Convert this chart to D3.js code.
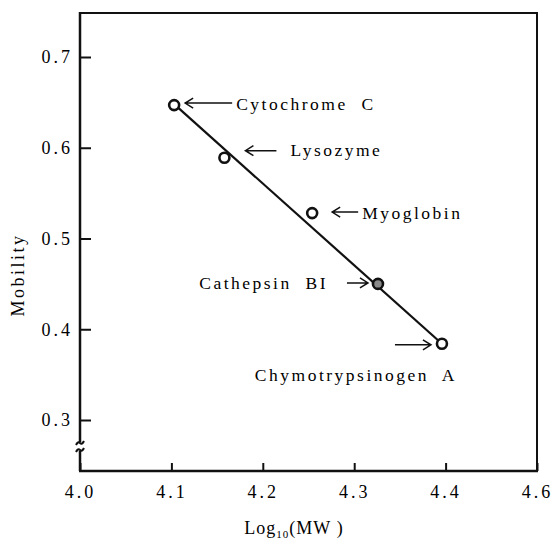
<!DOCTYPE html>
<html>
<head>
<meta charset="utf-8">
<script src="https://cdn.jsdelivr.net/npm/d3@7"></script>
<style>
  body { margin: 0; background: #fff; }
  text { font-family: "Liberation Serif", "DejaVu Serif", serif; fill: #000; }
</style>
</head>
<body>
<div class="chart"></div>
<script>
// proteins, log10(MW) vs mobility
var proteins = ['Cytochrome C', 'Lysozyme', 'Myoglobin', 'Cathepsin BI', 'Chymotrypsinogen A'];
var logMW = [4.103, 4.158, 4.254, 4.326, 4.396];
var mobility = [0.647, 0.589, 0.528, 0.450, 0.384];
var unknown = [false, false, false, true, false];

// fitted line end points
var fitX = [4.103, 4.396];
var fitY = [0.648, 0.384];

var xTicks = [4.0, 4.1, 4.2, 4.3, 4.4, 4.5];
var xTickLabels = ['4.0', '4.1', '4.2', '4.3', '4.4', '4.6'];
var yTicks = [0.3, 0.4, 0.5, 0.6, 0.7];
var yTickLabels = ['0.3', '0.4', '0.5', '0.6', '0.7'];

function init() {
  var width = 555,
      height = 539,
      left = 80,
      right = 537,
      top = 13,
      bottom = 471;

  var x = d3.scaleLinear().domain([4.0, 4.5]).range([left, right]);
  var y = d3.scaleLinear().domain([0.3, 0.7]).range([420, 57]);

  var svg = d3.select('.chart')
    .append('svg')
      .attr('width', width)
      .attr('height', height);

  // frame (top and right)
  svg.append('path')
      .attr('d', 'M' + left + ',' + top + 'H' + right + 'V' + bottom)
      .attr('fill', 'none')
      .attr('stroke', '#111')
      .attr('stroke-width', 2);

  // bottom axis
  var xAxis = d3.axisBottom(x)
      .tickValues(xTicks)
      .tickSize(-8)
      .tickFormat(function(d, i) { return xTickLabels[i]; });

  var gx = svg.append('g')
      .attr('transform', 'translate(0,' + bottom + ')')
      .call(xAxis);
  gx.select('.domain').remove();
  gx.selectAll('line').attr('stroke', '#111').attr('stroke-width', 2);
  gx.selectAll('text')
      .attr('y', 14)
      .attr('dy', '0.71em')
      .style('font-size', '18px')
      .style('letter-spacing', '3px')
      .style('font-family', '"Liberation Serif", serif')
      .attr('fill', '#000');
  svg.append('line')
      .attr('x1', left - 1).attr('x2', right + 1)
      .attr('y1', bottom).attr('y2', bottom)
      .attr('stroke', '#111')
      .attr('stroke-width', 2.5);

  // left axis
  var yAxis = d3.axisLeft(y)
      .tickValues(yTicks)
      .tickSize(-11)
      .tickFormat(function(d, i) { return yTickLabels[i]; });

  var gy = svg.append('g')
      .attr('transform', 'translate(' + left + ',0)')
      .call(yAxis);
  gy.select('.domain').remove();
  gy.selectAll('line').attr('stroke', '#111').attr('stroke-width', 2);
  gy.selectAll('text')
      .attr('x', -7)
      .style('font-size', '18px')
      .style('letter-spacing', '3px')
      .style('font-family', '"Liberation Serif", serif')
      .attr('fill', '#000');

  // axis line with break
  svg.append('line')
      .attr('x1', left).attr('x2', left)
      .attr('y1', top - 1).attr('y2', 442)
      .attr('stroke', '#111').attr('stroke-width', 2.5);
  svg.append('line')
      .attr('x1', left).attr('x2', left)
      .attr('y1', 451).attr('y2', bottom)
      .attr('stroke', '#111').attr('stroke-width', 2.5);
  svg.append('path')
      .attr('d', 'M' + (left - 4) + ',445 Q' + (left - 2) + ',441 ' + left + ',443 T' + (left + 4) + ',441')
      .attr('fill', 'none').attr('stroke', '#111').attr('stroke-width', 2);
  svg.append('path')
      .attr('d', 'M' + (left - 4) + ',452 Q' + (left - 2) + ',448 ' + left + ',450 T' + (left + 4) + ',448')
      .attr('fill', 'none').attr('stroke', '#111').attr('stroke-width', 2);

  // axis titles
  svg.append('text')
      .attr('transform', 'translate(24,275) rotate(-90)')
      .attr('text-anchor', 'middle')
      .style('font-size', '18px')
      .style('letter-spacing', '2.5px')
      .text('Mobility');

  var xTitle = svg.append('text')
      .attr('x', 294)
      .attr('y', 534)
      .attr('text-anchor', 'middle')
      .style('font-size', '18px')
      .style('letter-spacing', '1px');
  xTitle.append('tspan').text('Log');
  xTitle.append('tspan').attr('dy', 4).style('font-size', '11px').text('10');
  xTitle.append('tspan').attr('dy', -4).text('(MW\u00a0)');

  // fitted line
  svg.append('line')
      .attr('x1', x(fitX[0])).attr('y1', y(fitY[0]))
      .attr('x2', x(fitX[1])).attr('y2', y(fitY[1]))
      .attr('stroke', '#111')
      .attr('stroke-width', 2.2);

  // points
  var pts = proteins.map(function(name, i) {
    return { name: name, x: logMW[i], y: mobility[i], unknown: unknown[i] };
  });

  svg.selectAll('circle.pt')
    .data(pts)
    .enter().append('circle')
      .attr('class', 'pt')
      .attr('cx', function(d) { return x(d.x); })
      .attr('cy', function(d) { return y(d.y); })
      .attr('r', 5)
      .attr('fill', function(d) { return d.unknown ? '#8a8a8a' : '#fff'; })
      .attr('stroke', '#111')
      .attr('stroke-width', 2.6);

  // annotations: arrow tip/tail offsets from point, text offset, anchor
  var notes = [
    { ax0: 11, ax1: 58, ay: -2, tx: 62, ty: 5, anchor: 'start', label: 'Cytochrome\u00a0 C' },
    { ax0: 21, ax1: 52, ay: -7, tx: 66, ty: -2, anchor: 'start', label: 'Lysozyme' },
    { ax0: 20, ax1: 46, ay: -1, tx: 50, ty: 6, anchor: 'start', label: 'Myoglobin' },
    { ax0: -10, ax1: -31, ay: -1, tx: -50, ty: 5, anchor: 'end', label: 'Cathepsin\u00a0 BI' },
    { ax0: -11, ax1: -47, ay: 1, tx: 15, ty: 37, anchor: 'end', label: 'Chymotrypsinogen\u00a0 A' }
  ];

  var ann = svg.selectAll('g.note')
    .data(pts)
    .enter().append('g')
      .attr('class', 'note')
      .attr('transform', function(d) { return 'translate(' + x(d.x) + ',' + y(d.y) + ')'; });

  ann.append('path')
      .attr('d', function(d, i) {
        var n = notes[i];
        var dir = n.ax1 > n.ax0 ? 1 : -1;
        return 'M' + n.ax1 + ',' + n.ay + 'H' + n.ax0 +
               'M' + (n.ax0 + dir * 8) + ',' + (n.ay - 5) + 'L' + n.ax0 + ',' + n.ay +
               'L' + (n.ax0 + dir * 8) + ',' + (n.ay + 5);
      })
      .attr('fill', 'none')
      .attr('stroke', '#111')
      .attr('stroke-width', 1.5);

  ann.append('text')
      .attr('x', function(d, i) { return notes[i].tx; })
      .attr('y', function(d, i) { return notes[i].ty; })
      .attr('text-anchor', function(d, i) { return notes[i].anchor; })
      .style('font-size', '17.5px')
      .style('letter-spacing', '2.5px')
      .text(function(d, i) { return notes[i].label; });
}

init();
</script>
</body>
</html>
